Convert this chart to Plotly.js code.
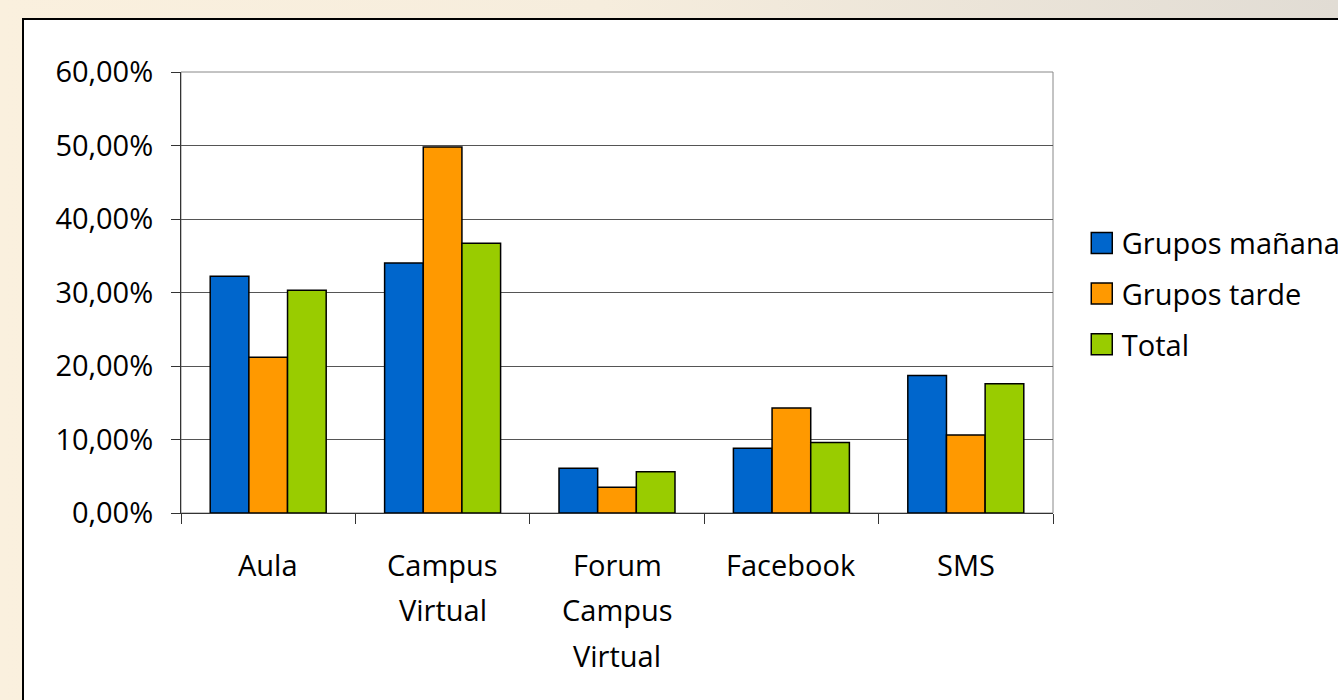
<!DOCTYPE html>
<html>
<head>
<meta charset="utf-8">
<script src="https://cdn.plot.ly/plotly-3.0.1.min.js"></script>
<style>
  html, body { margin:0; padding:0; width:1338px; height:700px; overflow:hidden;
    background: linear-gradient(to right, #faf0de 0%, #f6eddd 45%, #e1dcd4 100%); }
  #frame { position:absolute; left:22px; top:18px; width:1380px; height:700px;
    border:2px solid #000; background:#fff; }
  #chart { width:1380px; height:700px; }
</style>
</head>
<body>
<div id="frame"><div id="chart"></div></div>
<script>
const categories = ["Aula", "Campus Virtual", "Forum Campus Virtual", "Facebook", "SMS"];
const seriesNames = ["Grupos mañana", "Grupos tarde", "Total"];
const grupoManana = [0.322, 0.340, 0.061, 0.088, 0.187];
const grupoTarde  = [0.212, 0.498, 0.035, 0.143, 0.106];
const total       = [0.303, 0.367, 0.056, 0.096, 0.176];
const yTickVals = [0, 0.1, 0.2, 0.3, 0.4, 0.5, 0.6];
const colors = ["#0066CC", "#FF9900", "#99CC00"];

const FONT = "Open Sans, sans-serif";
const values = [grupoManana, grupoTarde, total];
const traces = values.map((v, i) => ({
  type: "bar",
  name: seriesNames[i],
  x: categories,
  y: v,
  legendgroup: "g" + i,
  marker: { color: colors[i], line: { color: "#000", width: 1.5 } },
  hoverinfo: "skip"
}));

const annotations = [];
categories.forEach(c => {
  c.split(" ").forEach((w, j) => {
    annotations.push({
      x: c, y: 0, xref: "x", yref: "y", text: w, showarrow: false,
      xanchor: "center", yanchor: "middle", yshift: -51 - 45.5 * j,
      font: { family: FONT, size: 29, color: "#000" }
    });
  });
});

const layout = {
  width: 1380, height: 700,
  margin: { l: 157, r: 351, t: 52, b: 207 },
  paper_bgcolor: "#fff", plot_bgcolor: "#fff",
  separators: ",.",
  font: { family: FONT, size: 29, color: "#000" },
  barmode: "group", bargap: 0.335, bargroupgap: 0,
  xaxis: {
    type: "category", tickson: "boundaries", ticks: "outside", ticklen: 10,
    tickcolor: "#333", tickwidth: 1, showticklabels: false,
    showline: true, linecolor: "#333", linewidth: 1, showgrid: false, zeroline: false
  },
  yaxis: {
    range: [0, 0.6], tickvals: yTickVals, tickformat: ".2%",
    ticks: "outside", ticklen: 9, tickcolor: "#333", tickwidth: 1,
    showline: true, linecolor: "#333", linewidth: 1,
    showgrid: true, gridcolor: "#555", gridwidth: 1, zeroline: false,
    tickfont: { family: FONT, size: 29, color: "#000" }, ticklabelstandoff: 12
  },
  shapes: [{ type: "rect", xref: "paper", yref: "paper", x0: 0, x1: 1, y0: 0, y1: 1,
    line: { color: "#888", width: 1 }, layer: "below" }],
  legend: {
    x: 1.033, xanchor: "left", y: 0.67, yanchor: "top",
    font: { family: FONT, size: 29, color: "#000" },
    bgcolor: "rgba(0,0,0,0)", borderwidth: 0, tracegroupgap: 10, traceorder: "grouped"
  },
  annotations: annotations
};

Plotly.newPlot("chart", traces, layout, { displayModeBar: false, staticPlot: true }).then(gd => {
  // enlarge the legend swatches to match the reference
  gd.querySelectorAll(".legend .legendpoints path").forEach(p => {
    p.setAttribute("d", "M10.5,10.5H-10.5V-10.5H10.5Z");
  });
});
</script>
</body>
</html>
